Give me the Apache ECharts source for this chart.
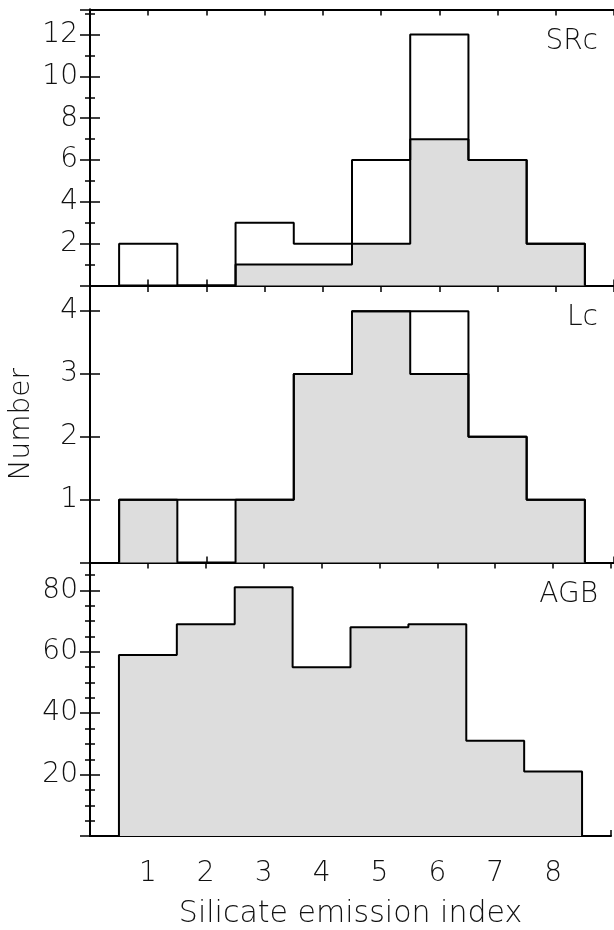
<!DOCTYPE html>
<html>
<head>
<meta charset="utf-8">
<script src="https://cdn.jsdelivr.net/npm/echarts@6/dist/echarts.min.js"></script>
<style>
  html, body { margin: 0; padding: 0; background: #fff; }
  #chart { width: 614px; height: 930px; }
</style>
</head>
<body>
<div id="chart"></div>
<script>
  // silicate emission index bins
  const bins = [1, 2, 3, 4, 5, 6, 7, 8]
  const xLabels = [1, 2, 3, 4, 5, 6, 7, 8]

  // SRc: all (open) and filled (grey)
  const srcAll = [2, 0, 3, 2, 6, 12, 6, 2]
  const srcFill = [0, 0, 1, 1, 2, 7, 6, 2]
  // Lc
  const lcAll = [1, 1, 1, 3, 4, 4, 2, 1]
  const lcFill = [1, 0, 1, 3, 4, 3, 2, 1]
  // AGB
  const agbFill = [59, 69, 81, 55, 68, 69, 31, 21]

  const panelNames = ['SRc', 'Lc', 'AGB']
  const yLabels = [[2, 4, 6, 8, 10, 12], [1, 2, 3, 4], [20, 40, 60, 80]]

  const font = 'DejaVu Sans'
  const weight = 200
  const black = '#000'
  const grey = '#dddddd'

  // histogram outline: start at left edge of first bin, step at each bin edge
  function stepData (vals) {
    let pts = [[bins[0] - 0.5, 0]]
    vals.forEach((v, i) => pts.push([bins[i] - 0.5, v]))
    pts.push([bins[bins.length - 1] + 0.5, 0])
    return pts
  }

  const grids = [
    {left: 90, width: 528, top: 9.5, height: 276},
    {left: 90, width: 528, top: 286, height: 276.5},
    {left: 90, width: 528, top: 562.5, height: 277.5}
  ]
  const yMax = [13.2, 4.4, 89.1]
  const yInterval = [2, 1, 20]
  const yMinor = [2, 0, 4]

  let xAxes = []
  let yAxes = []
  grids.forEach((g, p) => {
    ['bottom', 'top'].forEach(pos => {
      xAxes.push({
        type: 'value',
        gridIndex: p,
        position: pos,
        min: 0,
        max: 9,
        interval: 1,
        axisLine: {show: true, onZero: false, lineStyle: {color: black, width: 2}},
        // negative length -> ticks point into the plot
        axisTick: {inside: false, length: -6, lineStyle: {color: black, width: 1.5}},
        splitLine: {show: false},
        axisLabel: {
          show: p === 2 && pos === 'bottom',
          margin: 24,
          fontFamily: font,
          fontWeight: weight,
          fontSize: 28,
          color: '#111',
          formatter: v => xLabels.includes(v) ? String(v) : ''
        },
        name: p === 2 && pos === 'bottom' ? 'Silicate emission index' : '',
        nameLocation: 'middle',
        nameGap: 63,
        nameTextStyle: {fontFamily: font, fontWeight: weight, fontSize: 30, color: '#111'}
      })
    });
    ['left', 'right'].forEach(pos => {
      yAxes.push({
        type: 'value',
        gridIndex: p,
        position: pos,
        min: 0,
        max: yMax[p],
        interval: yInterval[p],
        axisLine: {show: true, lineStyle: {color: black, width: 2}},
        axisTick: {inside: false, length: -10, lineStyle: {color: black, width: 1.5}},
        minorTick: {show: yMinor[p] > 0, splitNumber: yMinor[p] || 5, length: -5, lineStyle: {color: black, width: 1.5}},
        splitLine: {show: false},
        axisLabel: {
          show: pos === 'left',
          margin: 12,
          fontFamily: font,
          fontWeight: weight,
          fontSize: 28,
          color: '#111',
          formatter: v => yLabels[p].includes(v) ? String(v) : ''
        },
        name: p === 1 && pos === 'left' ? 'Number' : '',
        nameLocation: 'middle',
        nameGap: 54,
        nameRotate: 90,
        nameTextStyle: {fontFamily: font, fontWeight: weight, fontSize: 28, color: '#111'}
      })
    })
  })

  function fillSeries (p, vals) {
    return {
      type: 'line',
      xAxisIndex: p * 2,
      yAxisIndex: p * 2,
      data: stepData(vals),
      step: 'end',
      symbol: 'none',
      animation: false,
      lineStyle: {color: black, width: 2},
      areaStyle: {color: grey, opacity: 1},
      z: 2
    }
  }
  function openSeries (p, vals) {
    return {
      type: 'line',
      xAxisIndex: p * 2,
      yAxisIndex: p * 2,
      data: stepData(vals),
      step: 'end',
      symbol: 'none',
      animation: false,
      lineStyle: {color: black, width: 2},
      z: 3
    }
  }

  const titleTops = [28, 304, 581]
  let myChart = echarts.init(document.getElementById('chart'))
  myChart.setOption({
    backgroundColor: '#fff',
    animation: false,
    title: panelNames.map((n, i) => ({
      text: n,
      right: 16,
      top: titleTops[i],
      padding: 0,
      textStyle: {fontFamily: font, fontSize: 28, fontWeight: weight, color: '#111'}
    })),
    grid: grids,
    xAxis: xAxes,
    yAxis: yAxes,
    series: [
      fillSeries(0, srcFill),
      openSeries(0, srcAll),
      fillSeries(1, lcFill),
      openSeries(1, lcAll),
      fillSeries(2, agbFill)
    ]
  })
</script>
</body>
</html>
